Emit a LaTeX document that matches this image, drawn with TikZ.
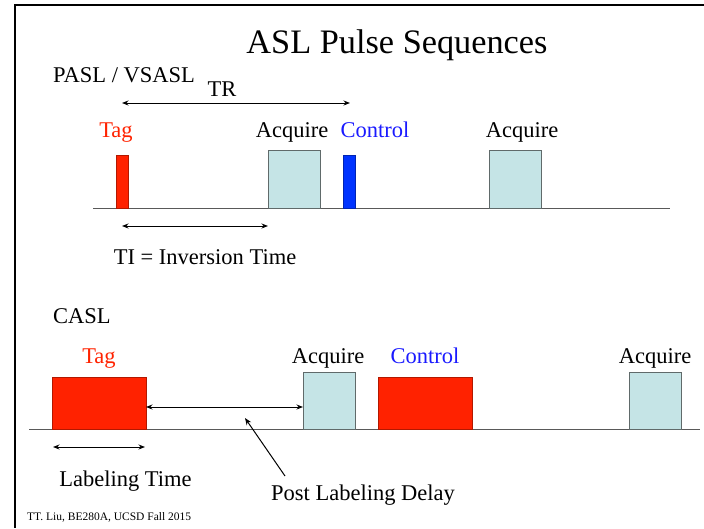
\documentclass[tikz,border=0pt]{standalone}
\usepackage{fontspec}
\setmainfont{Liberation Serif}
\usetikzlibrary{arrows.meta}
\definecolor{tagred}{HTML}{FF2200}
\definecolor{ctlblue}{HTML}{0033FF}
\definecolor{txtblue}{HTML}{1A1AFF}
\definecolor{acqfill}{HTML}{C5E4E6}
\definecolor{acqline}{HTML}{606A6A}
\begin{document}
\begin{tikzpicture}[x=1pt,y=-1pt,
  lbl/.style={font=\fontsize{22.5}{24}\selectfont, inner sep=0pt},
  pulse/.style={draw=#1!70!black, fill=#1, line width=0.8pt, inner sep=0pt, outer sep=0pt, anchor=south west},
  acqbox/.style={draw=acqline, fill=acqfill, line width=0.8pt, inner sep=0pt, outer sep=0pt, anchor=south west, minimum width=52pt, minimum height=58pt},
  base/.style={draw=black!65, line width=1pt},
  dbl/.style={{Stealth[length=6.5pt,width=5pt]}-{Stealth[length=6.5pt,width=5pt]}, line width=1pt},
  single/.style={-{Stealth[length=7pt,width=5.5pt]}, line width=1pt}
]
\useasboundingbox (0,0) rectangle (704,528);
% frame
\coordinate (ftl) at (15,5);
\coordinate (ftr) at (704,5);
\coordinate (fbl) at (15,528);
\draw[line width=2pt] (ftr) -- (ftl) -- (fbl);

% title
\node[font=\fontsize{34.3}{36}\selectfont, inner sep=0pt, anchor=base] (title) at (397,53) {ASL Pulse Sequences};

% ---------- PASL ----------
\node[lbl, anchor=base west] (pasl) at (53,82) {PASL / VSASL};
\node[lbl, anchor=base] (trl) at (222,96) {TR};
\coordinate (b1l) at (93,208);
\coordinate (b1r) at (670,208);
\draw[base] (b1l) -- (b1r);

\node[pulse=tagred, minimum width=12pt, minimum height=53pt] (tagp) at (116,208) {};
\node[acqbox] (acq1) at (268,208) {};
\node[pulse=ctlblue, minimum width=12pt, minimum height=53pt] (ctlp) at (343,208) {};
\node[acqbox] (acq2) at (489,208) {};

\node[lbl, anchor=base, text=tagred] (tagl) at (116,137) {Tag};
\node[lbl, anchor=base] (acq1l) at (292,137) {Acquire};
\node[lbl, anchor=base, text=txtblue] (ctll) at (375,137) {Control};
\node[lbl, anchor=base] (acq2l) at (522,137) {Acquire};

\coordinate (trs) at (122,103);
\coordinate (tre) at (350,103);
\draw[dbl] (trs) -- (tre);
\coordinate (tis) at (122,226);
\coordinate (tie) at (268,226);
\draw[dbl] (tis) -- (tie);
\node[lbl, anchor=base] (til) at (205,264) {TI = Inversion Time};

% ---------- CASL ----------
\node[lbl, anchor=base west] (casl) at (53,323) {CASL};
\coordinate (b2l) at (29,429);
\coordinate (b2r) at (700,429);
\draw[base] (b2l) -- (b2r);

\node[pulse=tagred, minimum width=94pt, minimum height=52pt] (ctag) at (52,429) {};
\node[acqbox, minimum height=57pt] (cacq1) at (303,429) {};
\node[pulse=tagred, minimum width=94pt, minimum height=52pt] (cctl) at (378,429) {};
\node[acqbox, minimum height=57pt] (cacq2) at (629,429) {};

\node[lbl, anchor=base, text=tagred] (ctagl) at (99,363) {Tag};
\node[lbl, anchor=base] (cacq1l) at (328,363) {Acquire};
\node[lbl, anchor=base, text=txtblue] (cctll) at (425,363) {Control};
\node[lbl, anchor=base] (cacq2l) at (655,363) {Acquire};

\draw[dbl] (ctag.east |- 0,407) -- (cacq1.west |- 0,407);
\coordinate (lts) at (53,447);
\coordinate (lte) at (145,447);
\draw[dbl] (lts) -- (lte);
\node[lbl, anchor=base] (ltl) at (125.5,486) {Labeling Time};

\node[lbl, anchor=base] (pldl) at (363,500) {Post Labeling Delay};
\coordinate (plds) at (285,476);
\coordinate (plde) at (245,418);
\draw[single] (plds) -- (plde);

\node[font=\fontsize{11.5}{13}\selectfont, inner sep=0pt, anchor=base west] (foot) at (27,520) {TT. Liu, BE280A, UCSD Fall 2015};
\end{tikzpicture}
\end{document}
